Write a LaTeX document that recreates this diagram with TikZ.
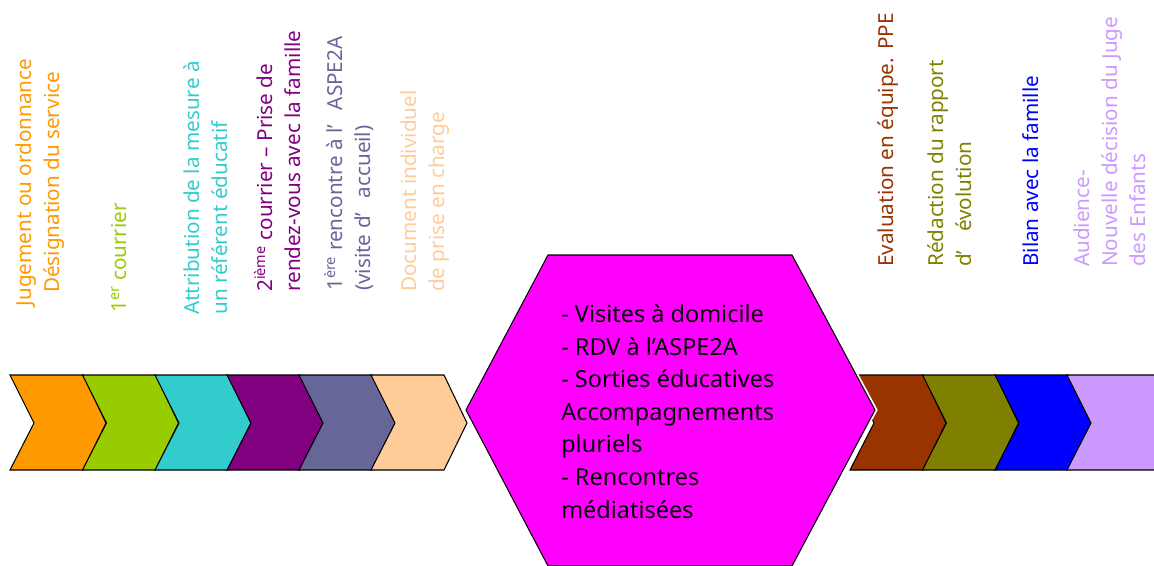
\documentclass[tikz,border=0pt]{standalone}
\usepackage{fontspec}
\setmainfont{Noto Sans}

\begin{document}
\begin{tikzpicture}[x=0.75pt,y=-0.75pt]
	% Define the colours of the steps
	\definecolor{stepOrange}{HTML}{FF9900}
	\definecolor{stepGreen}{HTML}{99CC00}
	\definecolor{stepCyan}{HTML}{33CCCC}
	\definecolor{stepPurple}{HTML}{800080}
	\definecolor{stepSlate}{HTML}{666699}
	\definecolor{stepPeach}{HTML}{FFCC99}
	\definecolor{stepMagenta}{HTML}{FF00FF}
	\definecolor{stepBrown}{HTML}{993300}
	\definecolor{stepOlive}{HTML}{808000}
	\definecolor{stepBlue}{HTML}{0000FF}
	\definecolor{stepLilac}{HTML}{CC99FF}
	
	% Define the styles for the chevrons and the rotated labels
	% (base west = start of the last line of a label)
	\tikzset{
		chevron/.style={draw=black, line width=0.8pt, line join=miter},
		step label/.style={rotate=90, anchor=base west, align=left, inner sep=0pt,
			font=\fontsize{15.5}{21}\selectfont}
	}
	
	% A chevron starting at x = #1 with fill colour #2
	\def\chevron#1#2{\filldraw[chevron, fill=#2] (#1,375) -- ++(73,0) -- ++(23,48) -- ++(-23,47) -- ++(-73,0) -- ++(24,-47) -- cycle;}
	
	% Frame of the picture
	\useasboundingbox (0,0) rectangle (1154,565);
	\clip (0,0) rectangle (1154,565);
	
	% Left chevrons
	\chevron{10}{stepOrange}
	\chevron{82.5}{stepGreen}
	\chevron{155}{stepCyan}
	\chevron{227}{stepPurple}
	\chevron{299}{stepSlate}
	\chevron{371}{stepPeach}
	
	% Right chevrons
	\chevron{850}{stepBrown}
	\chevron{922.5}{stepOlive}
	\chevron{995}{stepBlue}
	% last one runs off the page
	\fill[stepLilac] (1067,375) -- (1160,375) -- (1160,470) -- (1067,470) -- (1091,423) -- cycle;
	\draw[chevron] (1160,375) -- (1067,375) -- (1091,423) -- (1067,470) -- (1160,470);
	
	% Central hexagon
	\filldraw[fill=stepMagenta, draw=black, line width=0.8pt, preaction={draw=white, line width=3.5pt}]
		(466,410) -- (548,255) -- (792,255) -- (875,410) -- (792,566) -- (548,566) -- cycle;
	\node[anchor=base west, align=left, inner sep=0pt, font=\fontsize{17.6}{24.4}\selectfont] (actions) at (561,518)
		{- Visites à domicile\\- RDV à l’ASPE2A\\- Sorties éducatives\\Accompagnements\\pluriels\\- Rencontres\\médiatisées};
	
	% Labels of the left steps
	\node[step label, anchor=base, align=center, text=stepOrange] (jugement) at (60,182.5)
		{Jugement ou ordonnance\\Désignation du service};
	\node[step label, text=stepGreen] (courrier1) at (126,313) {1\textsuperscript{er} courrier};
	\node[step label, text=stepCyan] (attribution) at (227,315)
		{Attribution de la mesure à\\un référent éducatif};
	\node[step label, text=stepPurple] (courrier2) at (300,292)
		{2\textsuperscript{ième} courrier – Prise de\\rendez-vous avec la famille};
	\node[step label, text=stepSlate] (rencontre) at (370,291)
		{1\textsuperscript{ère} rencontre à l’\hspace{0.7em}ASPE2A\\(visite d’\hspace{0.7em}accueil)};
	\node[step label, text=stepPeach] (document) at (444,292)
		{Document individuel\\de prise en charge};
	
	% Labels of the right steps
	\node[step label, text=stepBrown] (evaluation) at (893,267) {Evaluation en équipe.\hspace{0.4em}PPE};
	\node[step label, text=stepOlive] (redaction) at (971,267)
		{Rédaction du rapport\\d’\hspace{0.9em}évolution};
	\node[step label, text=stepBlue] (bilan) at (1038,267) {Bilan avec la famille};
	\node[step label, text=stepLilac] (audience) at (1145,267)
		{Audience-\\Nouvelle décision du Juge\\des Enfants};
\end{tikzpicture}
\end{document}
